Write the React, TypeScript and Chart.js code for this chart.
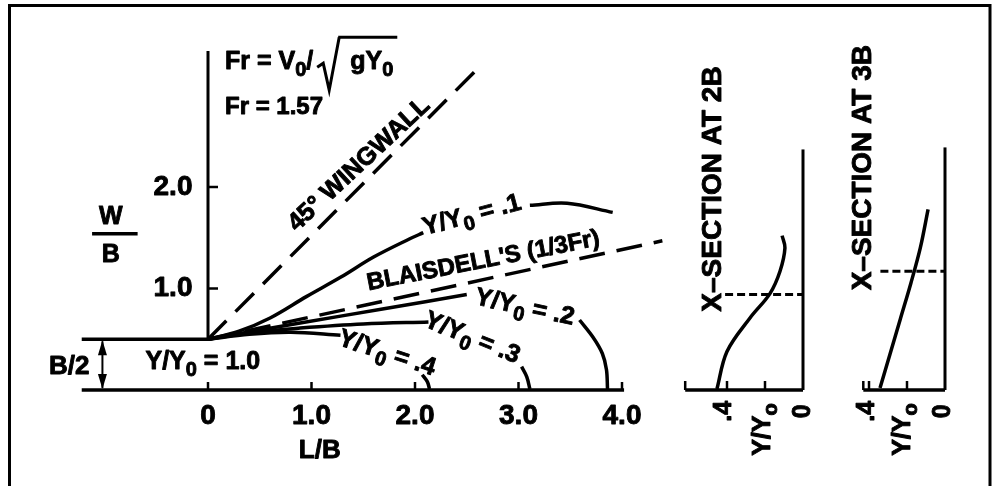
import { useEffect, useRef } from "react";
import { Chart, registerables } from "chart.js";
Chart.register(...registerables);

// ---------- main plot (L/B , W/B) ----------
const wallL = [-1.22, 0];
const wallW = [0.5, 0.5];
const floorL = [-1.22, 4.02];
const floorW = [0, 0];
const axisL = [0, 0];
const axisW = [0.5, 3.34];

const wingwallL = [0, 2.59];
const wingwallW = [0.5, 3.15];
const blaisdellL = [0, 4.39];
const blaisdellW = [0.5, 1.47];

const yy01aL = [0, 0.3, 0.6, 0.95, 1.28, 1.6, 1.95, 2.08];
const yy01aW = [0.5, 0.58, 0.71, 0.92, 1.11, 1.31, 1.49, 1.55];
const yy01bL = [3.11, 3.47, 3.91];
const yy01bW = [1.82, 1.84, 1.75];

const yy02aL = [0, 0.89, 1.7, 2.5];
const yy02aW = [0.5, 0.66, 0.8, 0.94];
const yy02bL = [3.59, 3.72, 3.81, 3.85, 3.86];
const yy02bW = [0.69, 0.52, 0.36, 0.2, 0.01];

const yy03aL = [0, 0.45, 0.89, 1.5, 2.13];
const yy03aW = [0.5, 0.57, 0.61, 0.65, 0.67];
const yy03bL = [3.03, 3.08, 3.11];
const yy03bW = [0.23, 0.13, 0.01];

const yy04aL = [0, 0.4, 0.8, 1.28];
const yy04aW = [0.5, 0.55, 0.57, 0.54];
const yy04bL = [2.07, 2.12, 2.14];
const yy04bW = [0.15, 0.08, 0.01];

const xTicks = [0, 1, 2, 3, 4];
const xTickLabels = ["0", "1.0", "2.0", "3.0", "4.0"];
const yTicks = [1, 2];
const yTickLabels = ["1.0", "2.0"];

// ---------- cross-section panels (Y/Yo , W/B) ----------
const sec2AxisV = [0, 0];
const sec2AxisW = [0, 2.37];
const sec2BaseV = [0, 0.62];
const sec2BaseW = [0, 0];
const sec2CurveV = [0.453, 0.4, 0.279, 0.174, 0.121, 0.095, 0.11];
const sec2CurveW = [0.01, 0.38, 0.71, 0.95, 1.17, 1.4, 1.52];
const sec2DashV = [0.41, 0];
const sec2DashW = [0.94, 0.94];

const sec3AxisV = [0, 0];
const sec3AxisW = [0, 2.39];
const sec3BaseV = [0, 0.43];
const sec3BaseW = [0, 0];
const sec3CurveV = [0.342, 0.29, 0.235, 0.18, 0.13, 0.089];
const sec3CurveW = [0.02, 0.35, 0.7, 1.05, 1.4, 1.78];
const sec3DashV = [0.34, 0];
const sec3DashW = [1.17, 1.17];

const secTicks = [0.2, 0.4];

const SANS = '"Liberation Sans", Arial, sans-serif';
const NARROW = '"Liberation Sans Narrow", "Liberation Sans", sans-serif';

type Part = [string, boolean?];

function pts(xs: number[], ys: number[]) {
  return xs.map((x, i) => ({ x, y: ys[i] }));
}

function drawRich(
  ctx: CanvasRenderingContext2D,
  parts: Part[],
  cx: number,
  cy: number,
  angle: number,
  size: number,
  align: "left" | "center" | "right" = "center",
  family = SANS
) {
  ctx.save();
  ctx.translate(cx, cy);
  ctx.rotate((angle * Math.PI) / 180);
  const main = `bold ${size}px ${family}`;
  const sub = `bold ${Math.round(size * 0.78)}px ${family}`;
  let w = 0;
  const widths = parts.map(([t, s]) => {
    ctx.font = s ? sub : main;
    const m = ctx.measureText(t).width;
    w += m;
    return m;
  });
  let x = align === "center" ? -w / 2 : align === "right" ? -w : 0;
  const start = x;
  ctx.textBaseline = "middle";
  ctx.textAlign = "left";
  ctx.fillStyle = "#000";
  ctx.strokeStyle = "#000";
  ctx.lineWidth = 0.9;
  ctx.lineJoin = "round";
  parts.forEach(([t, s], i) => {
    ctx.font = s ? sub : main;
    const yy = s ? size * 0.32 : 0;
    ctx.fillText(t, x, yy);
    ctx.strokeText(t, x, yy);
    x += widths[i];
  });
  ctx.restore();
  return { start: cx + start, end: cx + x };
}

const decorPlugin = {
  id: "decor",
  afterDraw(chart: any) {
    const ctx: CanvasRenderingContext2D = chart.ctx;
    const sx = chart.scales.x;
    const sy = chart.scales.y;
    const s2 = chart.scales.x2;
    const s3 = chart.scales.x3;
    const X = (v: number) => sx.getPixelForValue(v);
    const Y = (v: number) => sy.getPixelForValue(v);
    ctx.save();
    ctx.strokeStyle = "#000";
    ctx.fillStyle = "#000";
    ctx.lineCap = "butt";

    // frame
    ctx.lineWidth = 3;
    ctx.beginPath();
    ctx.moveTo(9.5, 490);
    ctx.lineTo(9.5, 5.5);
    ctx.lineTo(990, 5.5);
    ctx.lineTo(990, 490);
    ctx.stroke();

    // x ticks (up from floor)
    ctx.lineWidth = 2.5;
    xTicks.forEach((t) => {
      ctx.beginPath();
      ctx.moveTo(X(t), Y(0));
      ctx.lineTo(X(t), Y(0) - 8);
      ctx.stroke();
    });
    // y ticks (right from axis)
    yTicks.forEach((t) => {
      ctx.beginPath();
      ctx.moveTo(X(0), Y(t));
      ctx.lineTo(X(0) + 10, Y(t));
      ctx.stroke();
    });
    // panel ticks
    [s2, s3].forEach((s: any, k: number) => {
      const left = k === 0 ? sec2BaseV[1] : sec3BaseV[1];
      [...secTicks, left].forEach((t) => {
        if (t > left + 1e-6) return;
        ctx.beginPath();
        ctx.moveTo(s.getPixelForValue(t), Y(0));
        ctx.lineTo(s.getPixelForValue(t), Y(0) - 9);
        ctx.stroke();
      });
    });

    // tick labels
    xTicks.forEach((t, i) => {
      drawRich(ctx, [[xTickLabels[i]]], X(t), Y(-0.26), 0, 28, "center", NARROW);
    });
    yTicks.forEach((t, i) => {
      drawRich(ctx, [[yTickLabels[i]]], X(-0.15), Y(t), 0, 28, "right", NARROW);
    });

    // W / B axis title
    drawRich(ctx, [["W"]], X(-0.94), Y(1.7), 0, 25);
    drawRich(ctx, [["B"]], X(-0.94), Y(1.33), 0, 25);
    ctx.lineWidth = 3.5;
    ctx.beginPath();
    ctx.moveTo(X(-1.12), Y(1.54));
    ctx.lineTo(X(-0.68), Y(1.54));
    ctx.stroke();

    // L/B
    drawRich(ctx, [["L/B"]], X(1.08), Y(-0.6), 0, 26, "center", NARROW);

    // B/2 with double arrow
    drawRich(ctx, [["B/2"]], X(-1.34), Y(0.23), 0, 26, "center", NARROW);
    const ax = X(-1.02);
    ctx.lineWidth = 2;
    ctx.beginPath();
    ctx.moveTo(ax, Y(0.48));
    ctx.lineTo(ax, Y(0.02));
    ctx.stroke();
    ctx.beginPath();
    ctx.moveTo(ax, Y(0.49));
    ctx.lineTo(ax - 4.5, Y(0.49) + 15);
    ctx.lineTo(ax + 4.5, Y(0.49) + 15);
    ctx.closePath();
    ctx.fill();
    ctx.beginPath();
    ctx.moveTo(ax, Y(0.01));
    ctx.lineTo(ax - 4.5, Y(0.01) - 15);
    ctx.lineTo(ax + 4.5, Y(0.01) - 15);
    ctx.closePath();
    ctx.fill();

    drawRich(ctx, [["Y/Y"], ["0", true], [" = 1.0"]], X(-0.05), Y(0.27), 0, 25);

    // Froude formula
    const fy = Y(3.23);
    const r = drawRich(ctx, [["Fr = V"], ["0", true], ["/"]], X(0.164), fy, 0, 25, "left");
    const rx = r.end + 4;
    const top = fy - 25;
    ctx.lineWidth = 3;
    ctx.beginPath();
    ctx.moveTo(rx, fy + 5);
    ctx.lineTo(rx + 6, fy + 1);
    ctx.lineTo(rx + 12, fy + 28);
    ctx.lineTo(rx + 22, top);
    ctx.stroke();
    const g = drawRich(ctx, [["gY"], ["0", true]], rx + 33, fy, 0, 25, "left");
    ctx.beginPath();
    ctx.moveTo(rx + 21, top);
    ctx.lineTo(g.end + 4, top);
    ctx.stroke();
    drawRich(ctx, [["Fr = 1.57"]], X(0.164), Y(2.78), 0, 24, "left");

    // curve labels
    drawRich(ctx, [["45° WINGWALL"]], X(1.46), Y(2.22), -43, 25);
    drawRich(ctx, [["Y/Y"], ["0", true], [" = .1"]], X(2.55), Y(1.72), -15, 25);
    drawRich(ctx, [["BLAISDELL'S (1/3Fr)"]], X(2.66), Y(1.27), -11, 24);
    drawRich(ctx, [["Y/Y"], ["0", true], [" = .2"]], X(3.06), Y(0.81), 12, 25);
    drawRich(ctx, [["Y/Y"], ["0", true], [" = .3"]], X(2.55), Y(0.51), 22, 25);
    drawRich(ctx, [["Y/Y"], ["0", true], [" = .4"]], X(1.73), Y(0.36), 18, 25);

    // panel titles and axis labels
    const P2 = (v: number) => s2.getPixelForValue(v);
    const P3 = (v: number) => s3.getPixelForValue(v);
    drawRich(ctx, [["X–SECTION AT 2B"]], P2(0.47), Y(1.98), -90, 28, "center", NARROW);
    drawRich(ctx, [["X–SECTION AT 3B"]], P3(0.43), Y(2.19), -90, 28, "center", NARROW);
    [
      [P2, 0.415, 0.21, 0.0],
      [P3, 0.41, 0.22, 0.01],
    ].forEach(([P, a, b, c]: any) => {
      drawRich(ctx, [[".4"]], P(a), Y(-0.21), -90, 25);
      drawRich(ctx, [["Y/Y"], ["o", true]], P(b), Y(-0.39), -90, 25);
      drawRich(ctx, [["0"]], P(c), Y(-0.21), -90, 25);
    });

    ctx.restore();
  },
};

export default function App() {
  const ref = useRef<HTMLCanvasElement | null>(null);
  useEffect(() => {
    if (!ref.current) return;
    const solid = (data: any, xAxisID = "x", width = 3.5, tension = 0.35) => ({
      data,
      xAxisID,
      yAxisID: "y",
      showLine: true,
      borderColor: "#000",
      borderWidth: width,
      pointRadius: 0,
      fill: false,
      tension,
      borderCapStyle: "butt",
    });
    const dashed = (data: any, dash: number[], xAxisID = "x", width = 3.5) => ({
      ...solid(data, xAxisID, width, 0),
      borderDash: dash,
    });
    const datasets: any[] = [
      solid(pts(wallL, wallW), "x", 3.5, 0),
      solid(pts(floorL, floorW), "x", 3.5, 0),
      solid(pts(axisL, axisW), "x", 3, 0),
      dashed(pts(wingwallL, wingwallW), [26, 13]),
      dashed(pts(blaisdellL, blaisdellW), [26, 12]),
      solid(pts(yy01aL, yy01aW)),
      solid(pts(yy01bL, yy01bW)),
      solid(pts(yy02aL, yy02aW)),
      solid(pts(yy02bL, yy02bW)),
      solid(pts(yy03aL, yy03aW)),
      solid(pts(yy03bL, yy03bW)),
      solid(pts(yy04aL, yy04aW)),
      solid(pts(yy04bL, yy04bW)),
      solid(pts(sec2AxisV, sec2AxisW), "x2", 3, 0),
      solid(pts(sec2BaseV, sec2BaseW), "x2", 3.5, 0),
      solid(pts(sec2CurveV, sec2CurveW), "x2", 3.5, 0.35),
      dashed(pts(sec2DashV, sec2DashW), [8, 4], "x2", 3),
      solid(pts(sec3AxisV, sec3AxisW), "x3", 3, 0),
      solid(pts(sec3BaseV, sec3BaseW), "x3", 3.5, 0),
      solid(pts(sec3CurveV, sec3CurveW), "x3", 3.5, 0.35),
      dashed(pts(sec3DashV, sec3DashW), [8, 4], "x3", 3),
    ];
    const chart = new Chart(ref.current, {
      type: "scatter",
      data: { datasets },
      options: {
        animation: false,
        responsive: false,
        events: [],
        layout: { padding: 0 },
        plugins: { legend: { display: false }, tooltip: { enabled: false } },
        scales: {
          x: { type: "linear", axis: "x", display: false, min: -208 / 103.5, max: (999 - 208) / 103.5 },
          x2: { type: "linear", axis: "x", display: false, reverse: true, min: -(999 - 803) / 190, max: 803 / 190 },
          x3: { type: "linear", axis: "x", display: false, reverse: true, min: -(999 - 945) / 190, max: 945 / 190 },
          y: { type: "linear", axis: "y", display: false, min: -(486 - 390) / 101.5, max: 390 / 101.5 },
        },
      } as any,
      plugins: [decorPlugin],
    });
    return () => chart.destroy();
  }, []);
  return (
    <div style={{ position: "fixed", left: 0, top: 0, width: 999, height: 486, background: "#fff" }}>
      <canvas ref={ref} width={999} height={486} style={{ width: 999, height: 486, display: "block" }} />
    </div>
  );
}
